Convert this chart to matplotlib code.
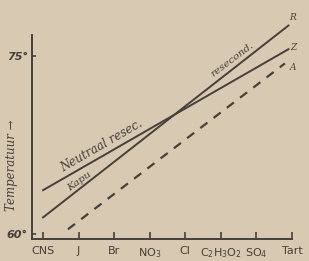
import matplotlib
matplotlib.use('Agg')
import matplotlib.pyplot as plt
import numpy as np

# anion series along the x axis
anions = ['CNS', 'J', 'Br', r'NO$_3$', 'Cl', r'C$_2$H$_3$O$_2$', r'SO$_4$', 'Tart']

# straight lines, given by their two end points (index, temperature)
neutraal_x = [0.0, 6.9]
neutraal_y = [63.7, 75.6]
kapu_x = [0.0, 6.9]
kapu_y = [61.4, 77.6]
dash_x = [0.7, 6.8]
dash_y = [60.4, 74.4]

yticks = [60, 75]
ytick_labels = ['60°', '75°']

paper = '#d8cab2'
ink = '#45403a'

fig = plt.figure(figsize=(3.09, 2.61), dpi=100, facecolor=paper)
ax = fig.add_axes([32 / 309, 1 - 239 / 261, 260 / 309, 204 / 261])
ax.set_facecolor(paper)

ax.plot(neutraal_x, neutraal_y, color=ink, lw=1.4, clip_on=False)
ax.plot(kapu_x, kapu_y, color=ink, lw=1.4, clip_on=False)
ax.plot(dash_x, dash_y, color=ink, lw=1.6, ls=(0, (4, 3.5)), clip_on=False)

ax.set_xlim(-0.31, 7.0)
ax.set_ylim(59.58, 76.8)

for s in ['top', 'right']:
    ax.spines[s].set_visible(False)
for s in ['left', 'bottom']:
    ax.spines[s].set_color(ink)
    ax.spines[s].set_linewidth(1.4)

ax.set_xticks(range(len(anions)))
ax.set_xticklabels(anions, fontsize=8, color=ink, family='DejaVu Sans')
ax.tick_params(axis='x', direction='in', length=5, width=1.2, color=ink, pad=5)
ax.set_yticks(yticks)
ax.set_yticklabels(ytick_labels, fontsize=8, color=ink, style='italic', fontweight='bold')
ax.tick_params(axis='y', direction='in', length=3, width=1.2, color=ink, pad=3)

h = 261
fig.text(12 / 309, 1 - 165 / h, 'Temperatuur \u2192', rotation=90, fontsize=8.5,
         color=ink, style='italic', family='DejaVu Serif', ha='center', va='center')
fig.text(102 / 309, 1 - 146 / h, 'Neutraal resec.', rotation=30, fontsize=8.5,
         color=ink, style='italic', family='DejaVu Serif', ha='center', va='center')
fig.text(79 / 309, 1 - 181 / h, 'Kapu', rotation=36, fontsize=7.5,
         color=ink, style='italic', family='DejaVu Serif', ha='center', va='center')
fig.text(232 / 309, 1 - 60 / h, 'resecond.', rotation=37, fontsize=7.5,
         color=ink, style='italic', family='DejaVu Serif', ha='center', va='center')
for lab, yy in [('R', 17), ('Z', 47), ('A', 68)]:
    fig.text(293 / 309, 1 - yy / h, lab, fontsize=6.5, color=ink, style='italic',
             family='DejaVu Serif', ha='center', va='center')

fig.savefig('out.png', dpi=100, facecolor=paper)
